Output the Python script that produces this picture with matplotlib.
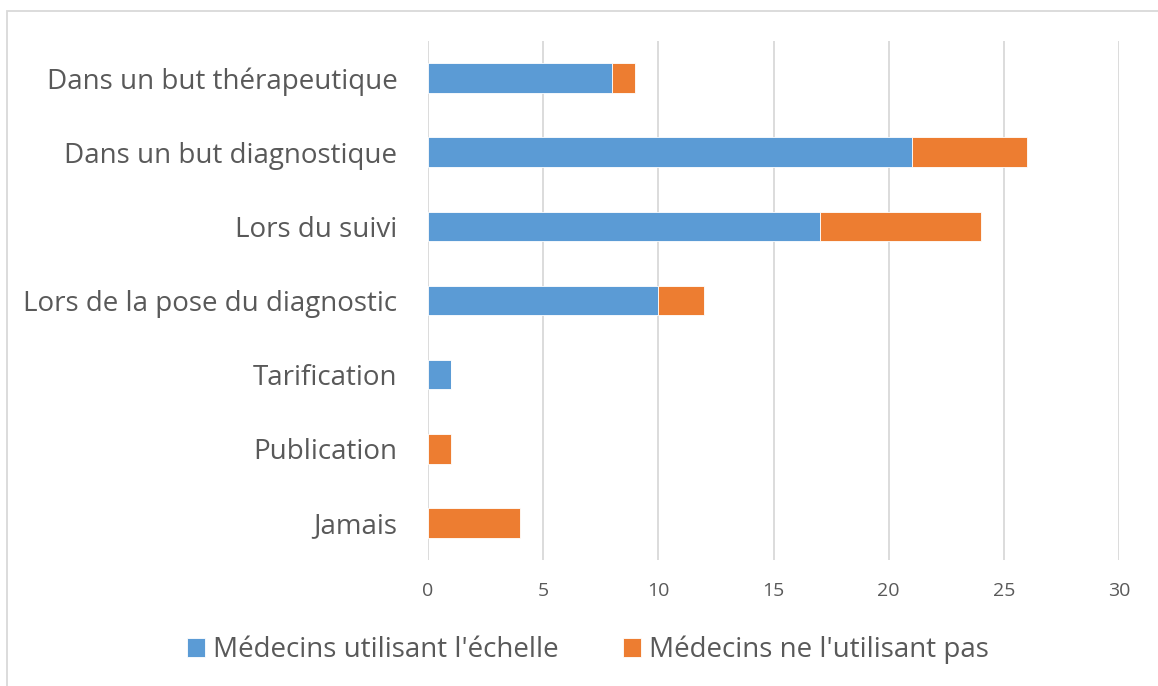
import matplotlib.pyplot as plt
from matplotlib.patches import Rectangle
import numpy as np

categories = ["Dans un but thérapeutique", "Dans un but diagnostique", "Lors du suivi",
              "Lors de la pose du diagnostic", "Tarification", "Publication", "Jamais"]
utilisant = [8, 21, 17, 10, 1, 0, 0]
non_utilisant = [1, 5, 7, 2, 0, 1, 4]
xticks = [0, 5, 10, 15, 20, 25, 30]

blue = "#5B9BD5"
orange = "#ED7D31"
txt = "#595959"
plt.rcParams['font.family'] = ['Open Sans', 'DejaVu Sans']

W, H = 1158, 686
fig = plt.figure(figsize=(W / 100, H / 100), dpi=100)
ax = fig.add_axes([428 / W, 1 - 560 / H, (1119 - 428) / W, (560 - 41) / H])

y = np.arange(len(categories))
ax.barh(y, utilisant, height=0.4, color=blue, edgecolor="white", linewidth=0.6,
        label="Médecins utilisant l'échelle", zorder=3)
ax.barh(y, non_utilisant, left=utilisant, height=0.4, color=orange, edgecolor="white",
        linewidth=0.6, label="Médecins ne l'utilisant pas", zorder=3)

ax.set_ylim(len(categories) - 0.5, -0.5)
ax.set_xlim(0, 30)
ax.set_xticks(xticks)
ax.set_yticks(y)
ax.set_yticklabels(categories, fontsize=20, color=txt)
ax.tick_params(axis='x', labelsize=14, colors=txt, length=0, pad=16)
ax.tick_params(axis='y', length=0, pad=22)
ax.grid(axis='x', color="#D9D9D9", linewidth=1.3, zorder=0)
for s in ax.spines.values():
    s.set_visible(False)

leg = fig.legend(loc='center', bbox_to_anchor=(588 / W, 1 - 650 / H), ncol=2, frameon=False,
                 fontsize=20, handlelength=0.65, handleheight=0.65, handletextpad=0.3,
                 columnspacing=2.3)
for t in leg.get_texts():
    t.set_color(txt)

fig.add_artist(Rectangle((7 / W, -0.1), 1.2, 1 - 11 / H + 0.1, transform=fig.transFigure,
                         fill=False, edgecolor="#D9D9D9", linewidth=1.3))

fig.savefig("out.png", dpi=100)
